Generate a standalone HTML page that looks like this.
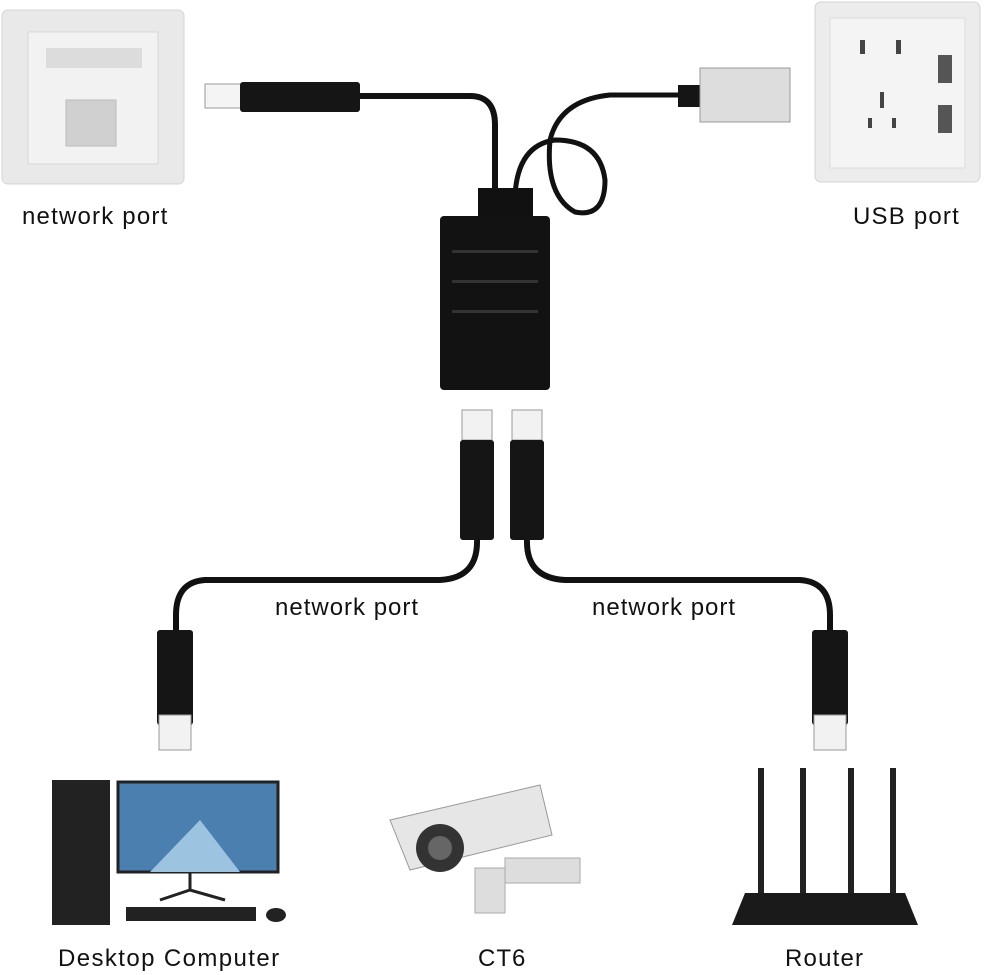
<!DOCTYPE html>
<html><head><meta charset="utf-8"><style>
html,body{margin:0;padding:0;background:#fff;}
svg{display:block}
text{font-family:"Liberation Sans",sans-serif;fill:#111}
</style></head><body>
<svg width="1000" height="975" viewBox="0 0 1000 975" xmlns="http://www.w3.org/2000/svg">
<!-- network wall plate -->
<rect x="2" y="10" width="182" height="174" rx="6" fill="#e9e9e9" stroke="#d4d4d4"/>
<rect x="28" y="32" width="130" height="132" fill="#f2f2f2" stroke="#d8d8d8"/>
<rect x="46" y="48" width="96" height="20" fill="#dcdcdc"/>
<rect x="66" y="100" width="50" height="46" fill="#d0d0d0" stroke="#bbb"/>
<text x="22" y="224" font-size="24" letter-spacing="1.2">network port</text>
<!-- USB wall socket -->
<rect x="815" y="2" width="165" height="180" rx="6" fill="#ececec" stroke="#d4d4d4"/>
<rect x="830" y="18" width="135" height="150" fill="#f4f4f4" stroke="#ddd"/>
<rect x="860" y="40" width="5" height="14" fill="#444"/><rect x="896" y="40" width="5" height="14" fill="#444"/>
<rect x="880" y="92" width="4" height="16" fill="#444"/><rect x="868" y="118" width="4" height="10" fill="#444"/><rect x="892" y="118" width="4" height="10" fill="#444"/>
<rect x="938" y="55" width="14" height="28" fill="#555"/><rect x="938" y="105" width="14" height="28" fill="#555"/>
<text x="853" y="224" font-size="24" letter-spacing="1.2">USB port</text>
<!-- top cables -->
<path d="M360 96 H470 Q495 96 495 125 V195" fill="none" stroke="#111" stroke-width="6"/>
<path d="M678 95 H610 Q560 100 550 140 Q545 195 575 212 Q605 218 605 180 Q600 140 555 140 Q518 145 515 195" fill="none" stroke="#111" stroke-width="5"/>
<!-- top RJ45 -->
<rect x="205" y="84" width="38" height="24" fill="#f4f4f4" stroke="#999"/>
<rect x="240" y="82" width="120" height="30" rx="3" fill="#151515"/>
<!-- USB plug -->
<rect x="678" y="85" width="25" height="22" fill="#151515"/>
<rect x="700" y="68" width="90" height="54" fill="#ddd" stroke="#999"/>
<!-- splitter -->
<rect x="478" y="188" width="55" height="28" fill="#111"/>
<rect x="440" y="216" width="110" height="174" rx="4" fill="#121212"/>
<rect x="452" y="250" width="86" height="3" fill="#333"/><rect x="452" y="280" width="86" height="3" fill="#333"/><rect x="452" y="310" width="86" height="3" fill="#333"/>
<!-- lower plugs -->
<rect x="462" y="410" width="30" height="30" fill="#f2f2f2" stroke="#999"/>
<rect x="460" y="440" width="34" height="100" rx="3" fill="#151515"/>
<rect x="512" y="410" width="30" height="30" fill="#f2f2f2" stroke="#999"/>
<rect x="510" y="440" width="34" height="100" rx="3" fill="#151515"/>
<path d="M477 540 Q478 578 440 580 H205 Q176 582 176 615 V632" fill="none" stroke="#111" stroke-width="6"/>
<path d="M527 540 Q526 578 565 580 H800 Q830 582 830 615 V632" fill="none" stroke="#111" stroke-width="6"/>
<rect x="157" y="630" width="36" height="95" rx="3" fill="#151515"/>
<rect x="159" y="715" width="32" height="35" fill="#f2f2f2" stroke="#999"/>
<rect x="812" y="630" width="36" height="95" rx="3" fill="#151515"/>
<rect x="814" y="715" width="32" height="35" fill="#f2f2f2" stroke="#999"/>
<text x="275" y="615" font-size="24" letter-spacing="1">network port</text>
<text x="592" y="615" font-size="24" letter-spacing="1">network port</text>
<!-- computer -->
<rect x="52" y="780" width="58" height="145" fill="#222"/>
<rect x="118" y="782" width="160" height="90" fill="#4a7fb0" stroke="#222" stroke-width="3"/>
<path d="M150 872 L200 820 L240 872Z" fill="#9cc3e0"/>
<path d="M190 872 v18 M160 900 l30 -10 l35 10" stroke="#222" stroke-width="3" fill="none"/>
<rect x="126" y="907" width="130" height="14" fill="#222"/>
<ellipse cx="276" cy="915" rx="10" ry="7" fill="#222"/>
<text x="58" y="966" font-size="24" letter-spacing="1.4">Desktop Computer</text>
<!-- camera -->
<path d="M390 820 L540 785 L552 835 L410 870Z" fill="#e6e6e6" stroke="#999"/>
<circle cx="440" cy="848" r="24" fill="#333"/><circle cx="440" cy="848" r="12" fill="#666"/>
<rect x="475" y="868" width="30" height="45" fill="#ddd" stroke="#aaa"/>
<rect x="505" y="858" width="75" height="25" fill="#ddd" stroke="#aaa"/>
<text x="478" y="966" font-size="24" letter-spacing="1">CT6</text>
<!-- router -->
<rect x="758" y="768" width="6" height="125" fill="#222"/><rect x="800" y="768" width="6" height="125" fill="#222"/>
<rect x="848" y="768" width="6" height="125" fill="#222"/><rect x="890" y="768" width="6" height="125" fill="#222"/>
<path d="M745 893 H905 L918 925 H732Z" fill="#1a1a1a"/>
<text x="785" y="966" font-size="24" letter-spacing="1.2">Router</text>
</svg>
</body></html>
